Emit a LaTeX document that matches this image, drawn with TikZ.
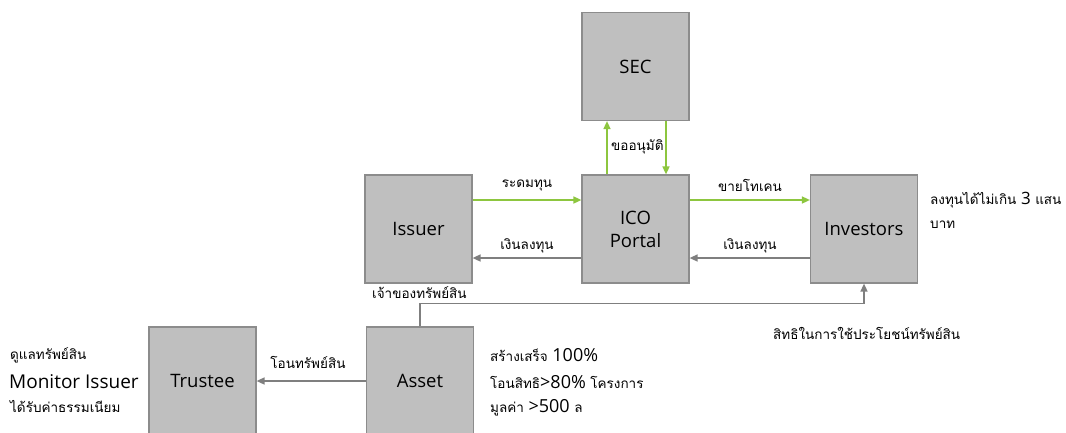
\documentclass[tikz,border=0pt]{standalone}
\usepackage{fontspec}
\setmainfont{Open Sans}
\newfontfamily\thai[Script=Thai]{Loma}
\usetikzlibrary{arrows.meta}
\definecolor{boxgray}{HTML}{BFBFBF}
\definecolor{edgegray}{HTML}{8C8C8C}
\definecolor{flowgreen}{HTML}{8DC63F}
\definecolor{flowgray}{HTML}{7F7F7F}
\tikzset{
  party/.style={draw=edgegray,line width=1.2pt,fill=boxgray,minimum width=107pt,minimum height=108pt,
    align=center,font=\fontsize{18.5}{23}\selectfont},
  goflow/.style={flowgreen,line width=1.5pt,-{Triangle[length=8pt,width=7pt]}},
  backflow/.style={flowgray,line width=1.5pt,-{Triangle[length=8pt,width=7pt]}},
  thaitxt/.style={font=\thai\fontsize{13.5}{16}\selectfont,inner sep=0pt},
}
\begin{document}
\begin{tikzpicture}[x=1pt,y=-1pt]
            \clip (0,0) rectangle (1066,432);
            \fill[white] (0,0) rectangle (1066,432);
            % boxes
            \node[party] (sec) at (635.5,66.5) {SEC};
            \node[party] (ico) at (635.5,229) {ICO\\Portal};
            \node[party] (issuer) at (418.5,229) {Issuer};
            \node[party] (inv) at (864,229) {Investors};
            \node[party] (trustee) at (202.5,381) {Trustee};
            \node[party] (asset) at (420,381) {Asset};
            % flows round the portal
            \draw[goflow] ([xshift=-28.5pt]ico.north) -- ([xshift=-28.5pt]sec.south);
            \draw[goflow] ([xshift=30.5pt]sec.south) -- ([xshift=30.5pt]ico.north);
            \node[thaitxt,anchor=west] (approve) at (611,147) {ขออนุมัติ};
            \draw[goflow] ([yshift=29pt]issuer.east) -- ([yshift=29pt]ico.west);
            \draw[backflow] ([yshift=-29pt]ico.west) -- ([yshift=-29pt]issuer.east);
            \node[thaitxt] (raise) at (527,185) {ระดมทุน};
            \node[thaitxt] (fundl) at (527,246) {เงินลงทุน};
            \draw[goflow] ([yshift=29pt]ico.east) -- ([yshift=29pt]inv.west);
            \draw[backflow] ([yshift=-29pt]inv.west) -- ([yshift=-29pt]ico.west -| ico.east);
            \node[thaitxt] (sell) at (750,185) {ขายโทเคน};
            \node[thaitxt] (fundr) at (750,246) {เงินลงทุน};
            % investor limit
            \node[thaitxt,anchor=west] (limit) at (930,200) {ลงทุนได้ไม่เกิน {\rmfamily\fontsize{17}{19}\selectfont 3} แสน};
            \node[thaitxt,anchor=west] (baht) at (930,225) {บาท};
            % asset links
            \draw[backflow] (asset.north) -- ++(0,-23) -| (inv.south);
            \node[thaitxt,anchor=west] (owner) at (372,293) {เจ้าของทรัพย์สิน};
            \node[thaitxt,anchor=west] (usage) at (773,333) {สิทธิในการใช้ประโยชน์ทรัพย์สิน};
            \draw[backflow] (asset.west) -- (trustee.east);
            \node[thaitxt] (transfer) at (308,362) {โอนทรัพย์สิน};
            % asset notes
            \node[thaitxt,anchor=west] (built) at (490,355) {สร้างเสร็จ {\rmfamily\fontsize{18}{20}\selectfont 100\%}};
            \node[thaitxt,anchor=west] (sold) at (490,382) {โอนสิทธิ{\rmfamily\fontsize{18}{20}\selectfont >80\%} โครงการ};
            \node[thaitxt,anchor=west] (value) at (490,408) {มูลค่า {\rmfamily\fontsize{18}{20}\selectfont >500} ล};
            % trustee notes
            \node[thaitxt,anchor=west] (care) at (10,355) {ดูแลทรัพย์สิน};
            \node[anchor=west,inner sep=0pt,font=\fontsize{19}{22}\selectfont] (monitor) at (9,382) {Monitor Issuer};
            \node[thaitxt,anchor=west] (fee) at (10,406) {ได้รับค่าธรรมเนียม};
\end{tikzpicture}
\end{document}
